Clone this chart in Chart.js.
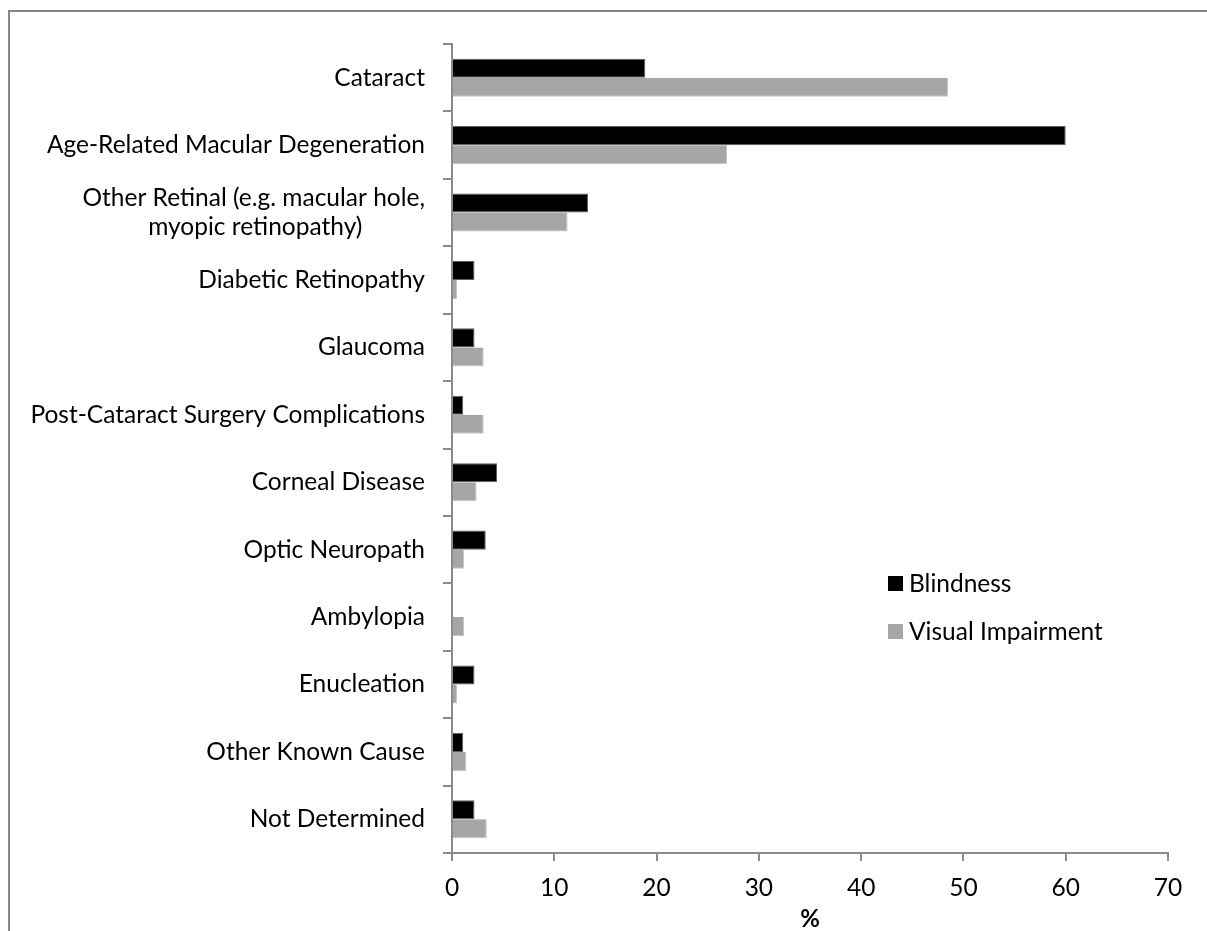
<!DOCTYPE html>
<html>
<head>
<meta charset="utf-8">
<script src="https://cdn.jsdelivr.net/npm/chart.js@4.4.1/dist/chart.umd.min.js"></script>
<style>
html,body{margin:0;padding:0;background:#fff}
canvas{display:block}
</style>
</head>
<body>
<canvas id="causeChart" width="1207" height="931"></canvas>
<script>
// 失明 / 視力損害 主要原因 (%)
const causes=[
  'Cataract',
  'Age-Related Macular Degeneration',
  ['Other Retinal (e.g. macular hole,','myopic retinopathy)          '],
  'Diabetic Retinopathy',
  'Glaucoma',
  'Post-Cataract Surgery Complications',
  'Corneal Disease',
  'Optic Neuropath',
  'Ambylopia',
  'Enucleation',
  'Other Known Cause',
  'Not Determined'
];
const blindness=[18.9,60.0,13.3,2.2,2.2,1.1,4.4,3.3,0,2.2,1.1,2.2];
const visualImpairment=[48.5,26.9,11.3,0.5,3.1,3.1,2.4,1.2,1.2,0.5,1.4,3.4];
const xMin=0,xMax=70,xStep=10;
const axisTitle='%';

const AXIS='#8a8a8a';
const FS=24.5;
Chart.defaults.font.family='Lato, "Liberation Sans", sans-serif';
Chart.defaults.font.size=FS;
Chart.defaults.color='#000';

// 外框（右、下被裁切）
const framePlugin={
  id:'frame',
  beforeDraw(c){
    const g=c.ctx;g.save();
    g.fillStyle='#fff';g.fillRect(0,0,c.width,c.height);
    g.strokeStyle='#868686';g.lineWidth=2;
    g.beginPath();g.moveTo(9,c.height+5);g.lineTo(9,11);g.lineTo(c.width+5,11);g.stroke();
    g.restore();
  }
};

// 圖例畫在繪圖區右側中間
const sideLegend={
  id:'sideLegend',
  afterDraw(c){
    const g=c.ctx;g.save();
    g.font=FS+'px '+Chart.defaults.font.family;
    g.textBaseline='middle';g.textAlign='left';
    c.data.datasets.forEach((ds,i)=>{
      const y=583+i*48;
      g.fillStyle=ds.backgroundColor;g.fillRect(888,y-7,15,15);
      g.fillStyle='#000';g.fillText(ds.label,909,y+1);
    });
    g.restore();
  }
};

new Chart(document.getElementById('causeChart'),{
  type:'bar',
  data:{
    labels:causes,
    datasets:[
      {label:'Blindness',data:blindness,backgroundColor:'#000000',borderColor:'#5e5e5e',borderWidth:1},
      {label:'Visual Impairment',data:visualImpairment,backgroundColor:'#a6a6a6',borderColor:'#c4c4c4',borderWidth:{bottom:1,right:1}}
    ]
  },
  options:{
    indexAxis:'y',
    responsive:false,
    animation:false,
    devicePixelRatio:1,
    categoryPercentage:0.564,
    barPercentage:1,
    layout:{padding:{left:0,top:44,right:39,bottom:0}},
    plugins:{legend:{display:false},tooltip:{enabled:false}},
    scales:{
      x:{
        min:xMin,max:xMax,
        afterFit(s){s.height=78;},
        border:{color:AXIS,width:2},
        grid:{drawOnChartArea:false,color:AXIS,lineWidth:2,tickLength:8},
        ticks:{stepSize:xStep,padding:12,maxRotation:0},
        title:{display:true,text:axisTitle,font:{weight:'bold',size:24,lineHeight:1},padding:{top:0,bottom:0}}
      },
      y:{
        afterFit(s){s.width=452;},
        border:{color:AXIS,width:2},
        grid:{offset:true,drawOnChartArea:false,color:AXIS,lineWidth:2,tickLength:9},
        ticks:{padding:18,autoSkip:false,font:{size:FS,lineHeight:1.15}}
      }
    }
  },
  plugins:[framePlugin,sideLegend]
});
</script>
</body>
</html>
